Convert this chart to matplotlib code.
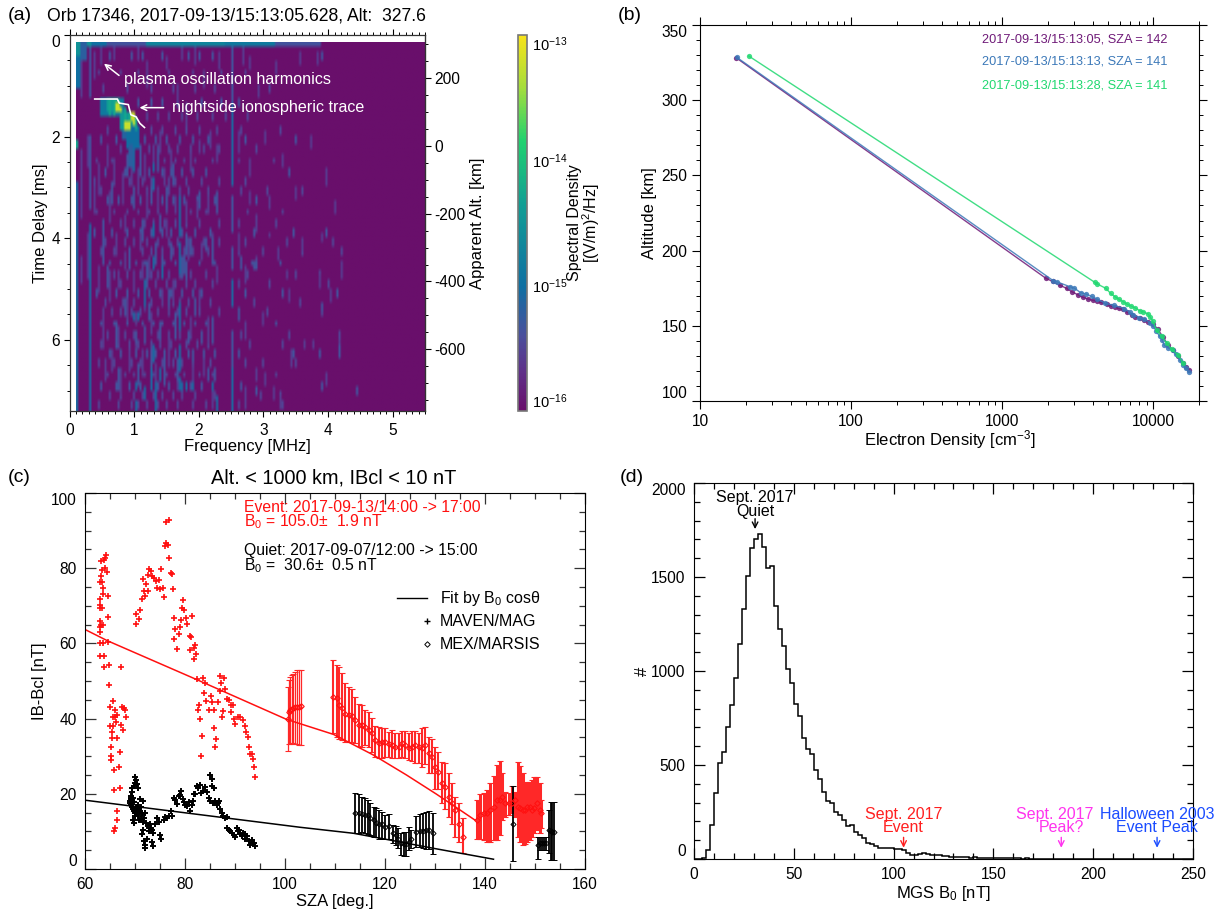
#!/usr/bin/env python3
import numpy as np
import matplotlib
matplotlib.use('Agg')
import matplotlib.pyplot as plt
from matplotlib.colors import LinearSegmentedColormap, LogNorm
from matplotlib.lines import Line2D
from matplotlib.ticker import MultipleLocator, FixedLocator, NullFormatter, NullLocator

plt.rcParams['font.family'] = ['Liberation Sans', 'DejaVu Sans']
plt.rcParams['mathtext.fontset'] = 'custom'
plt.rcParams['mathtext.rm'] = 'Liberation Sans'
plt.rcParams['mathtext.default'] = 'regular'
plt.rcParams['axes.unicode_minus'] = False

W, H = 1219, 913

# Panel a: ionogram, cells as (freq MHz, delay start, delay end)
freq_edges = 0.1 + np.arange(161) * 0.03375
delay_edges = 0.16 + np.arange(81) * 0.0914
faint_runs = [
    (0.2, 0.4, 1.2), (0.2, 2.3, 3.6), (0.2, 4.4, 4.9), (0.27, 2.0, 2.6), (0.27, 3.9, 4.8), (0.4, 0.4, 0.9), (0.4, 3.0, 3.5),
    (0.47, 2.6, 3.1), (0.47, 4.6, 5.1), (0.5, 0.3, 0.6), (0.53, 5.4, 6.2), (0.57, 6.4, 6.8), (0.6, 2.2, 2.6), (0.63, 3.1, 3.7),
    (0.63, 4.7, 5.2), (0.67, 6.2, 6.6), (0.7, 0.3, 0.5), (0.7, 2.5, 2.9), (0.73, 3.9, 4.3), (0.77, 4.7, 5.0), (0.77, 5.8, 6.1),
    (0.8, 6.6, 7.1), (0.83, 2.8, 3.3), (0.87, 3.6, 3.9), (0.87, 4.3, 4.6), (0.9, 5.2, 5.6), (0.93, 6.2, 6.6), (0.97, 2.6, 3.0),
    (1.0, 4.7, 5.1), (1.03, 5.5, 5.7), (1.03, 5.9, 6.2), (1.07, 0.3, 0.5), (1.07, 2.7, 3.1), (1.1, 3.9, 4.2), (1.13, 4.5, 4.8),
    (1.13, 6.2, 6.7), (1.17, 2.4, 2.9), (1.17, 5.1, 5.4), (1.2, 0.6, 1.0), (1.2, 3.2, 3.6), (1.23, 4.4, 4.8), (1.27, 5.5, 5.9),
    (1.3, 2.2, 2.5), (1.33, 6.5, 6.8), (1.37, 3.0, 3.4), (1.4, 1.9, 2.3), (1.43, 5.0, 5.3), (1.47, 2.7, 3.0), (1.5, 0.5, 0.7),
    (1.5, 3.7, 4.0), (1.53, 6.0, 6.5), (1.57, 2.3, 2.6), (1.6, 4.9, 5.2), (1.63, 3.2, 3.5), (1.67, 1.0, 1.3), (1.67, 6.7, 7.0),
    (1.73, 0.3, 0.5), (1.8, 1.4, 1.8), (1.8, 3.3, 3.7), (1.83, 4.2, 4.4), (1.87, 2.4, 2.7), (1.87, 5.6, 5.9), (1.9, 6.6, 6.9),
    (1.93, 0.3, 0.6), (1.97, 3.3, 3.6), (2.0, 2.1, 2.3), (2.0, 5.0, 5.3), (2.03, 4.1, 4.4), (2.07, 0.7, 1.0), (2.07, 6.4, 6.7),
    (2.13, 3.2, 3.5), (2.13, 5.6, 6.1), (2.17, 1.9, 2.2), (2.2, 3.9, 4.2), (2.2, 6.9, 7.3), (2.27, 2.2, 2.5), (2.27, 4.6, 4.9),
    (2.3, 0.4, 0.7), (2.63, 1.9, 2.3), (2.63, 3.9, 4.2), (2.67, 0.3, 0.6), (2.7, 4.6, 4.9), (2.7, 5.7, 6.0), (2.73, 7.0, 7.3),
    (2.77, 2.5, 2.8), (2.8, 3.1, 3.3), (2.8, 0.5, 0.7), (2.87, 3.6, 3.9), (2.87, 4.4, 4.6), (2.87, 6.6, 6.8), (2.93, 1.0, 1.2),
    (3.0, 5.5, 5.7), (3.03, 1.9, 2.1), (3.03, 6.7, 6.9), (3.1, 3.2, 3.4), (3.1, 3.9, 4.0), (3.17, 7.0, 7.2), (3.2, 0.6, 0.8),
    (3.23, 4.2, 4.4), (3.27, 7.1, 7.3), (3.3, 2.4, 2.6), (3.37, 4.7, 4.8), (3.4, 5.0, 5.2), (3.43, 6.2, 6.5), (3.5, 3.0, 3.2),
    (3.57, 0.4, 0.6), (3.6, 4.0, 4.2), (3.63, 6.0, 6.2), (3.73, 2.0, 2.2), (3.77, 6.0, 6.2), (3.83, 0.4, 0.6), (3.85, 4.8, 5.0),
    (3.9, 3.9, 4.1), (3.95, 2.7, 3.0), (3.95, 6.7, 6.9), (4.03, 5.0, 5.2), (4.1, 3.3, 3.5), (4.17, 6.0, 6.3), (4.2, 4.5, 4.8),
]
mid_runs = [
    (0.33, 0.25, 1.2), (0.33, 2.0, 3.4), (0.53, 3.7, 4.5), (0.6, 4.6, 5.0), (0.65, 2.9, 3.3), (0.73, 5.7, 6.2), (0.77, 6.6, 7.0),
    (0.87, 5.2, 5.5), (0.9, 2.4, 2.8), (0.93, 4.2, 4.6), (1.0, 3.0, 3.4), (1.03, 5.9, 6.1), (1.05, 6.5, 6.9), (1.1, 2.2, 2.8),
    (1.13, 3.7, 4.1), (1.17, 5.8, 6.1), (1.2, 4.5, 5.0), (1.23, 5.3, 5.6), (1.27, 3.0, 3.3), (1.27, 6.2, 6.6), (1.33, 4.1, 4.5),
    (1.37, 2.3, 2.7), (1.4, 3.6, 3.9), (1.4, 5.7, 6.0), (1.43, 4.4, 4.7), (1.47, 6.4, 6.9), (1.5, 3.0, 3.4), (1.53, 5.0, 5.3),
    (1.57, 4.1, 4.4), (1.6, 2.6, 3.0), (1.63, 5.5, 6.0), (1.67, 6.4, 6.8), (1.77, 4.4, 4.7), (1.8, 3.9, 4.3), (1.83, 5.9, 6.1),
    (1.87, 4.0, 4.3), (1.9, 6.2, 6.4), (1.93, 5.2, 5.5), (2.0, 3.1, 3.4), (2.03, 5.9, 6.1), (2.1, 4.0, 4.2), (2.13, 6.6, 6.8),
    (2.2, 4.0, 4.5), (2.2, 5.6, 6.1), (2.23, 6.6, 6.8), (2.27, 3.1, 3.5), (2.63, 5.4, 5.6), (2.65, 4.4, 4.6), (2.85, 4.5, 4.6),
    (2.5, 0.25, 1.4), (2.5, 3.2, 3.9), (2.5, 4.2, 4.6), (2.53, 5.9, 6.6), (1.75, 4.4, 4.8), (1.8, 4.5, 4.8), (4.43, 7.0, 7.1),
    (3.9, 5.3, 5.4), (4.17, 6.1, 6.3), (2.9, 4.45, 4.6), (2.85, 4.5, 4.6), (2.87, 7.0, 7.1),
]
strong_runs = [
    (0.11, 2.9, 7.41), (0.33, 3.8, 7.41), (2.5, 1.4, 3.0), (2.5, 4.9, 5.3), (2.5, 6.6, 7.41), (1.72, 3.2, 4.0), (1.72, 4.1, 4.7),
    (1.72, 5.3, 5.8), (1.72, 6.1, 6.6), (1.3, 2.59, 2.72), (1.3, 2.85, 3.05), (1.3, 3.77, 4.0), (1.3, 4.4, 4.6), (1.27, 6.6, 7.0),
    (1.0, 5.5, 5.6), (1.07, 5.5, 5.6), (1.03, 6.9, 7.0), (1.3, 6.1, 6.4), (1.33, 6.9, 7.41), (1.4, 6.6, 6.8), (1.17, 4.9, 5.3),
    (1.0, 2.2, 2.66), (1.03, 7.2, 7.41), (1.7, 6.8, 7.0), (1.75, 6.9, 7.0), (1.8, 6.9, 7.0), (1.9, 6.9, 7.0), (2.2, 6.9, 7.0),
    (2.27, 7.1, 7.41), (1.43, 4.6, 4.8), (1.17, 7.0, 7.2),
]
# single specks, one row of cells per delay
speck_delay = [0.4, 0.7, 1.0, 1.3, 1.6, 1.85, 2.05, 2.25, 2.45, 2.65, 2.85, 3.05, 3.25, 3.45, 3.65, 3.85, 4.05, 4.25, 4.45, 4.65, 4.85, 5.05, 5.25, 5.45, 5.65, 5.85, 6.05, 6.25, 6.45, 6.65, 6.85, 7.05, 7.25]
speck_freqs = [
    [0.62, 0.95, 1.12, 1.42, 1.85, 2.02, 2.2, 3.9],
    [0.45, 0.78, 1.05, 1.55, 1.92, 2.35, 2.7],
    [0.52, 0.88, 1.25, 1.6, 1.95, 2.25, 3.1],
    [1.05, 1.28, 1.45, 1.68, 2.05, 2.35, 2.6],
    [1.2, 1.35, 1.55, 1.75, 1.98, 2.2, 2.4, 2.75],
    [0.6, 1.25, 1.42, 1.62, 1.82, 2.02, 2.28, 2.65, 3.25],
    [0.48, 0.72, 1.18, 1.33, 1.5, 1.72, 1.92, 2.15, 2.72, 3.5],
    [0.58, 0.78, 1.22, 1.36, 1.55, 1.68, 1.88, 2.08, 2.3, 2.9],
    [0.42, 0.66, 1.15, 1.3, 1.48, 1.62, 1.78, 1.95, 2.2, 2.62, 3.15],
    [0.55, 0.85, 1.05, 1.24, 1.42, 1.58, 1.74, 1.9, 2.12, 2.8, 3.4],
    [0.38, 0.7, 0.92, 1.12, 1.28, 1.52, 1.65, 1.82, 2.05, 2.3, 2.7],
    [0.5, 0.82, 1.0, 1.2, 1.38, 1.55, 1.7, 1.85, 2.15, 2.65, 3.05, 3.6],
    [0.6, 0.75, 0.95, 1.1, 1.25, 1.45, 1.6, 1.78, 1.98, 2.25, 2.9],
    [0.42, 0.68, 0.88, 1.05, 1.22, 1.36, 1.5, 1.65, 1.88, 2.1, 2.75, 3.3],
    [0.52, 0.8, 0.98, 1.15, 1.3, 1.48, 1.62, 1.8, 2.02, 2.3, 2.62, 3.2],
    [0.4, 0.65, 0.9, 1.08, 1.25, 1.42, 1.58, 1.75, 1.95, 2.18, 2.85, 3.45, 3.95],
    [0.55, 0.72, 0.85, 1.0, 1.2, 1.35, 1.52, 1.68, 1.85, 2.08, 2.3, 2.7, 3.35, 4.05],
    [0.48, 0.7, 0.92, 1.12, 1.28, 1.42, 1.6, 1.78, 1.92, 2.15, 2.6, 3.0, 3.6, 4.2],
    [0.62, 0.8, 1.02, 1.18, 1.32, 1.48, 1.65, 1.82, 2.0, 2.25, 2.65, 2.82, 3.25],
    [0.45, 0.68, 0.88, 1.1, 1.25, 1.38, 1.55, 1.7, 1.88, 2.12, 2.75, 3.5, 3.85],
    [0.58, 0.78, 0.98, 1.15, 1.32, 1.5, 1.62, 1.8, 1.95, 2.22, 2.6, 3.1, 4.0],
    [0.42, 0.72, 0.9, 1.05, 1.22, 1.4, 1.58, 1.75, 1.9, 2.05, 2.7, 3.3, 4.15],
    [0.55, 0.82, 1.0, 1.15, 1.28, 1.45, 1.6, 1.72, 1.85, 2.18, 2.85, 3.55],
    [0.65, 0.78, 0.95, 1.08, 1.22, 1.38, 1.52, 1.68, 1.82, 2.0, 2.3, 2.62, 3.05, 3.9],
    [0.48, 0.7, 0.88, 1.12, 1.3, 1.42, 1.6, 1.78, 1.95, 2.12, 2.72, 3.2],
    [0.6, 0.85, 1.0, 1.18, 1.35, 1.55, 1.7, 1.88, 2.05, 2.2, 2.65, 3.4, 4.18],
    [0.5, 0.75, 0.92, 1.05, 1.25, 1.4, 1.58, 1.8, 1.98, 2.15, 2.8, 3.3, 3.75],
    [0.62, 0.8, 1.02, 1.2, 1.32, 1.48, 1.65, 1.85, 2.08, 2.25, 2.6, 3.45, 3.85],
    [0.45, 0.7, 0.95, 1.1, 1.28, 1.45, 1.6, 1.75, 1.92, 2.18, 2.72, 3.0, 3.5],
    [0.58, 0.85, 1.0, 1.15, 1.3, 1.5, 1.62, 1.78, 2.0, 2.2, 2.9, 3.2],
    [0.5, 0.72, 0.92, 1.08, 1.25, 1.38, 1.55, 1.72, 1.88, 2.05, 2.65, 3.9],
    [0.62, 0.8, 0.98, 1.12, 1.3, 1.45, 1.6, 1.75, 1.95, 2.25, 2.7, 2.95, 3.25],
    [0.45, 0.75, 0.95, 1.05, 1.2, 1.35, 1.5, 1.68, 1.9, 2.12, 2.62, 3.3],
]
# rectangular patches: f0, f1, t0, t1, log10 density
patches = [
    (0.1, 0.35, 0.16, 0.22, -14.5), (0.35, 0.6, 0.16, 0.22, -15.0), (0.6, 1.2, 0.16, 0.22, -15.35), (1.2, 2.4, 0.16, 0.22, -14.7), (2.4, 3.2, 0.16, 0.22, -14.85), (3.2, 3.9, 0.16, 0.22, -15.35),
    (0.1, 0.17, 0.22, 0.5, -14.5), (0.1, 0.17, 0.5, 1.0, -15.0), (0.2, 0.3, 0.22, 0.45, -15.2),
    (0.5, 0.86, 1.33, 1.58, -14.85), (0.58, 0.78, 1.33, 1.5, -14.35), (0.8, 1.0, 1.55, 1.9, -14.45), (0.88, 1.1, 1.88, 2.25, -15.0), (0.82, 0.88, 1.9, 2.05, -15.15),
    (0.92, 1.0, 2.25, 2.6, -15.2),
]
green_runs = [(0.1, 2.1, 2.2), (0.63, 1.33, 1.6), (0.7, 1.3, 1.55), (0.77, 1.3, 1.5), (0.87, 1.5, 1.9), (0.93, 1.6, 1.9), (1.03, 1.7, 1.9)]
yellow_cells = [(0.72, 1.38, 1.5), (0.75, 1.38, 1.5), (0.87, 1.75, 1.9), (0.9, 1.75, 1.9), (0.93, 1.75, 1.9), (0.97, 1.6, 1.72), (1.0, 1.6, 1.78), (0.8, 1.45, 1.5)]
run_levels = [(faint_runs, -15.6), (mid_runs, -15.35), (strong_runs, -15.1)]
top_levels = [(green_runs, -14.25), (yellow_cells, -13.25)]

trace_freq = [0.39, 0.74, 0.77, 0.91, 0.95, 1.03, 1.09, 1.16]
trace_delay = [1.26, 1.26, 1.34, 1.37, 1.57, 1.61, 1.74, 1.82]

# Panel b: electron density profiles
purple_ne = [17.3, 1941, 2150, 2400, 2660, 2900, 3178, 3400, 3700, 3950, 4205, 4500, 4900, 5200, 5560, 5900, 6310, 6700, 7160, 7600, 8130, 8700, 9230, 9950, 10700, 11580, 12500, 13500, 14550, 15700, 16400, 17200]
purple_alt = [328.3, 181.6, 179.5, 177, 174.9, 172.5, 170.5, 169, 167.8, 167, 166.5, 165.5, 164.3, 163.3, 162.3, 161.6, 161, 159, 157.2, 156, 155, 153.8, 152.7, 151.2, 147.6, 142.4, 137.2, 133.9, 129.9, 125, 122.5, 120.6]
blue_ne = [17.5, 2170, 2300, 2800, 3000, 3300, 3600, 3900, 4200, 4800, 5500, 6400, 7000, 7300, 8000, 8700, 9500, 10000, 10400, 11000, 11400, 11800, 12400, 13400, 14000, 15000, 15700, 16300, 17200]
blue_alt = [328.5, 180, 179.2, 176, 175, 172, 171, 169.5, 168, 165, 163.5, 161.5, 159, 157.5, 155.5, 154.5, 152, 150, 146.5, 143, 140.5, 137, 135.5, 134, 131, 127, 124, 122, 119]
green_ne = [21, 4090, 4250, 4840, 5200, 5560, 5930, 6310, 6700, 7090, 7530, 8130, 8550, 9230, 9460, 9860, 10470, 11300, 12200, 13180, 14550, 15700]
green_alt = [329.4, 178.9, 177.8, 174.9, 171.6, 169.3, 167.6, 166, 164.3, 163.2, 162, 160, 159.4, 157.8, 156, 153.4, 147.2, 143.2, 138.8, 134.4, 130.6, 125]
profile_labels = ['2017-09-13/15:13:05, SZA = 142', '2017-09-13/15:13:13, SZA = 141', '2017-09-13/15:13:28, SZA = 141']

# Panel c: MAVEN/MAG points
red_sza = [64.2, 63.7, 63.1, 64.0, 63.3, 64.0, 64.3, 63.1, 63.3, 63.0, 63.5, 63.5, 64.5, 62.9, 62.9, 63.3, 63.0, 63.0, 63.1, 63.5, 62.9, 63.0, 64.5, 64.5, 62.9, 63.5, 62.9, 63.8, 63.7, 64.7,
           64.8, 65.5, 64.9, 65.5, 66.0, 65.0, 65.5, 66.2, 65.3, 65.3, 65.1, 66.3, 65.1, 65.2, 66.9, 66.7, 65.8, 65.8, 66.9, 66.3, 66.3, 66.0, 65.7, 67.2, 67.7, 68.0, 67.3, 68.2, 67.2, 67.5, 66.0, 66.4,
           70.1, 70.2, 70.7, 71.0, 71.3, 72.0, 71.7, 72.5, 72.1, 71.5, 72.5, 72.8, 73.1, 73.4, 73.8, 74.2, 74.7, 74.3, 74.9, 75.5, 75.2, 75.7, 76.1, 75.9, 76.5, 76.8, 76.1, 76.7, 77.2, 77.4, 77.5, 77.7, 78.0, 77.8, 78.3, 79.0, 78.7,
           79.5, 79.3, 79.8, 79.1, 80.2, 80.3, 81.3, 80.9, 81.1, 81.0, 82.0, 81.7, 82.2, 81.8,
           82.4, 83.6, 84.0, 83.8, 82.8, 82.6, 83.0, 83.3, 83.2, 84.2, 85.1, 84.7, 85.7, 85.3, 86.5, 86.9, 87.0, 87.8, 87.1, 88.0, 87.5, 87.3, 85.8, 86.1, 86.0, 88.3, 88.7, 89.1, 89.5, 89.2, 89.7, 90.0, 90.5, 91.0, 91.5, 91.9, 92.2, 92.5, 92.7, 92.9, 93.3, 93.5, 93.7, 93.9]
red_b = [83.5, 82.2, 82.0, 82.6, 79.5, 80.0, 79.0, 78.0, 76.4, 76.2, 74.7, 73.1, 72.7, 71.7, 70.2, 69.3, 69.4, 66.0, 64.9, 65.0, 64.3, 63.1, 67.1, 60.5, 60.0, 60.0, 56.6, 56.7, 53.8, 54.3,
         49.0, 44.8, 43.0, 40.5, 40.3, 38.0, 38.0, 39.2, 36.5, 34.8, 32.5, 34.8, 30.1, 29.0, 31.0, 27.2, 26.3, 21.0, 21.5, 15.3, 13.0, 11.0, 10.0, 53.8, 42.7, 42.3, 43.1, 40.5, 38.3, 37.0, 42.3, 41.0,
         67.8, 65.1, 66.4, 68.9, 71.7, 72.6, 74.0, 74.0, 75.8, 77.1, 78.2, 79.8, 79.3, 77.8, 77.3, 76.7, 76.9, 74.8, 74.6, 74.8, 79.8, 72.3, 86.6, 85.9, 86.2, 82.6, 92.2, 92.8, 78.6, 78.4, 74.5, 66.7, 63.8, 61.3, 58.4, 64.4, 62.5,
         71.5, 69.3, 68.9, 66.2, 66.7, 65.1, 67.3, 62.0, 61.8, 58.2, 59.6, 58.7, 57.2, 55.8,
         50.4, 50.7, 49.4, 46.7, 43.6, 42.3, 39.8, 35.4, 30.0, 44.8, 46.0, 42.3, 42.3, 44.3, 44.3, 47.4, 51.3, 50.9, 49.4, 48.0, 42.0, 40.3, 37.6, 34.5, 32.5, 45.1, 45.0, 43.6, 43.6, 41.8, 39.8, 38.5, 40.5, 40.3, 39.5, 38.0, 36.5, 35.0, 32.4, 30.6, 30.5, 29.2, 27.2, 24.6]
black_sza = [70.0, 70.2, 69.9, 70.4, 69.7, 70.5, 69.4, 69.3, 69.2, 69.1, 69.0, 69.0, 69.2, 69.3, 69.5, 69.7, 70.0, 70.3, 69.9, 69.5, 69.7, 70.5, 70.7, 71.0, 70.6, 71.3, 71.1, 71.8, 71.5, 70.9, 71.5, 72.2, 72.5, 71.6, 71.4, 71.8, 72.0, 72.3, 71.9, 72.8, 73.2, 73.5, 73.4, 73.6, 74.0, 74.4, 74.8, 75.0, 75.2, 75.7, 76.0, 76.4, 76.8, 77.2, 77.3,
             69.1, 69.4, 69.6, 69.8, 70.1, 70.3, 70.5, 70.8, 71.2, 71.4, 72.0, 72.7, 73.0, 73.3,
             77.8, 78.0, 78.3, 78.7, 79.0, 79.2, 79.5, 79.8, 80.0, 80.3, 80.7, 80.9, 81.3, 81.5, 81.7, 82.0, 82.3, 82.6, 83.0, 83.2, 83.6, 84.0, 84.3, 84.7, 85.0, 85.5, 85.0, 85.3, 85.4, 85.8, 86.0, 86.3, 86.5, 86.8, 87.0, 87.3, 87.5, 87.9, 88.3,
             88.4, 88.8, 89.0, 89.4, 89.7, 90.0, 90.3, 90.5, 90.8, 91.0, 91.3, 91.6, 91.9, 92.0, 92.4, 92.7, 93.0, 93.3, 93.5, 93.8, 94.0]
black_b = [24.5, 23.7, 23.0, 22.5, 22.0, 21.5, 21.5, 20.5, 19.5, 19.0, 18.0, 17.5, 17.0, 16.5, 16.0, 15.5, 15.0, 14.5, 14.0, 13.0, 12.2, 17.0, 16.0, 15.5, 14.0, 14.5, 13.4, 13.5, 18.0, 18.5, 12.5, 12.2, 11.5, 10.5, 9.2, 7.5, 6.5, 8.0, 5.5, 10.0, 11.0, 9.5, 7.2, 6.0, 12.0, 13.5, 12.5, 9.0, 8.0, 13.0, 13.8, 13.5, 14.0, 15.5, 14.2,
           18.5, 18.2, 19.0, 17.7, 16.5, 15.7, 15.0, 13.0, 16.5, 15.0, 14.8, 10.8, 12.0, 10.5,
           19.0, 18.3, 17.3, 19.5, 19.8, 20.8, 18.5, 17.8, 17.0, 16.8, 17.7, 15.5, 17.0, 18.0, 20.0, 20.0, 22.0, 21.5, 22.3, 20.2, 20.8, 21.8, 20.5, 19.0, 18.0, 17.5, 25.0, 24.0, 22.0, 21.5, 18.0, 17.0, 17.5, 18.0, 16.0, 15.0, 14.0, 13.6, 13.7,
           11.0, 10.5, 10.0, 9.5, 9.0, 8.5, 11.0, 10.0, 10.5, 9.3, 8.8, 9.5, 8.0, 9.2, 8.8, 7.5, 6.5, 7.8, 7.0, 6.8, 6.0]

# Panel c: MEX/MARSIS points with error bars
ev_sza = [100.5, 100.7, 101, 101.3, 101.6, 102, 102.4, 102.8, 103.1,
          109.5, 110.3, 110.7, 111.3, 112, 112.7, 113.3, 114, 114.7, 115.3, 116, 116.7, 117.3, 118, 118.7, 119.3, 120, 120.7, 121.3, 122, 122.7, 123.3, 124, 124.7, 125.3, 126, 126.7, 127.3, 128, 128.7, 129.3, 130, 130.5, 131.3, 132, 132.7, 133.3, 134, 134.7, 135.5,
          138.3, 139, 139.7, 140.3, 141, 141.7, 142.3, 143, 143.3, 144, 144.7, 145.3, 146, 146.5, 147, 147.5, 147.9, 148.3, 148.9, 149.3, 149.8, 150.3, 150.9, 151.1]
ev_mean = [40, 41.8, 42.2, 42.5, 42.8, 43, 43, 43.2, 43.3,
           45.8, 45.4, 43.6, 42.7, 41.2, 41, 40.7, 39.6, 38.3, 38.3, 37.7, 37.1, 36.1, 34.3, 33.4, 33.9, 33.9, 33.2, 33, 32.5, 32.5, 33.4, 33, 32.3, 32.5, 33, 32.5, 32.1, 33, 30.8, 29.9, 27.2, 25.9, 22.8, 21.9, 19.2, 17.5, 15.7, 12.1, 8.6,
           13, 14.4, 15, 14.8, 15.7, 16.6, 18.3, 18.3, 19.2, 17.5, 17.5, 17.5, 18.3, 16.6, 16.1, 15.7, 15.7, 16.6, 16.6, 15.7, 16.1, 17.5, 15.7, 14.8]
ev_low = [31.5, 33.2, 33.3, 33.5, 33.4, 33.3, 33.3, 33, 33,
          36.1, 35.2, 34.7, 34.3, 33.7, 33.7, 33.9, 33.6, 32.7, 32.5, 33, 32.4, 31.2, 29.9, 29.6, 29.6, 29.9, 29.9, 29.4, 29.4, 29.4, 29.7, 29.4, 29, 28.8, 28.3, 28.1, 27.2, 27.9, 25.6, 25.4, 21.4, 21.4, 17.5, 15.9, 13.9, 12.1, 8.6, 7.3, 4.2,
          8.1, 8, 7.7, 7.3, 7.1, 7.7, 7.7, 9, 13, 13.9, 14.4, 14.8, 13.9, 8.6, 7.3, 6.4, 6.7, 7.3, 7.7, 8.6, 9.5, 10.4, 9.5, 10.8]
ev_high = [48.5, 50.3, 51, 51.5, 51.8, 52.3, 52.8, 53, 53,
           55.6, 54.3, 53.8, 52, 49.6, 48.3, 48, 45.7, 44, 43.6, 42.3, 41.8, 40.1, 38, 37.7, 37.4, 37.4, 36.5, 37, 36.1, 36.1, 36.8, 36.8, 36.3, 36.8, 36.7, 36.3, 37.4, 37.7, 35.2, 34.7, 32.5, 31.2, 28.4, 28.1, 25.4, 22.8, 19.2, 17.5, 13.5,
           18.3, 19.9, 20.3, 21, 22.8, 24.7, 27.6, 28.8, 25.4, 20.6, 20.1, 22.1, 20.6, 28.5, 27.4, 25.4, 23.2, 22.8, 23.2, 23.7, 24.6, 24.6, 22.8, 18.3]
qu_sza = [114, 114.7, 115.3, 116, 116.5, 117, 117.7, 118.2, 118.8, 119.3, 120, 120.8, 121.5, 122.1, 122.5, 123.1, 123.7, 124.2, 124.7, 125.1,
          126.2, 126.9, 127.5, 128.2, 128.7, 129.5, 145.5, 150.5, 151, 151.4, 151.8, 152.2, 152.7, 153.1, 153.4, 153.7]
qu_mean = [15, 15, 14.6, 14.4, 14.4, 13.5, 13, 12.3, 12.1, 12, 11.1, 11.4, 9.7, 9, 8.1, 6.8, 6.6, 6.6, 7.3, 8,
           9.9, 10.1, 10.2, 10.4, 10.4, 9.5, 12.1, 6.4, 6.8, 6.8, 6.8, 7, 10.4, 10.2, 9.9, 9.9]
qu_low = [9.5, 9.7, 9.9, 9.5, 9.3, 9, 8.6, 8.4, 8.1, 8.1, 8, 8, 6.8, 6.4, 5.5, 3.7, 3.4, 3.4, 5, 5.5,
          5.9, 5.8, 5.5, 5.2, 5.2, 4, 2.2, 2.7, 5, 5, 5, 5, 4.2, 2.4, 2.4, 2.4]
qu_high = [20.3, 20, 19.2, 18.8, 18.3, 17.5, 16.6, 16.1, 15.7, 15.2, 14.4, 14.6, 11.7, 11.4, 10.8, 9.7, 9.9, 9.9, 11.1, 10.4,
           14.1, 14.6, 14.8, 15.2, 15.5, 14.8, 22.2, 8.6, 8.6, 8.6, 8.6, 8.6, 15.7, 17.9, 17.9, 17.9]

fit_ev_sza = [60, 64.5, 82.3, 100.3, 109.7, 117.7, 124.3, 130.3, 135, 138]
fit_ev_b = [63.7, 60.7, 50.4, 39.8, 35.8, 30.3, 25, 19.9, 15.7, 13]
fit_qu_sza = [60, 103, 113.7, 121, 129.7, 141.7]
fit_qu_b = [18.3, 11.1, 9.5, 7.7, 5.5, 2.6]

# Panel d: histogram of B0, 2 nT bins
b0_counts = [0, 1, 3, 46, 181, 350, 513, 568, 700, 820, 964, 1145, 1330, 1503, 1654, 1704, 1729, 1660, 1546, 1560,
             1344, 1223, 1134, 1012, 935, 822, 758, 643, 584, 559, 472, 426, 359, 311, 296, 250, 236, 208, 176, 179,
             142, 130, 110, 83, 80, 71, 60, 59, 58, 56, 54, 52, 48, 34, 21, 20, 24, 30, 25, 23, 20, 19, 16,
             14, 12, 11, 9, 8, 8, 7, 9, 6, 7, 6, 5, 5, 6, 4, 4, 3, 3, 3, 2, 3, 2, 2, 1, 2, 1, 1, 1, 1, 1, 1, 1, 0, 1, 0, 1, 0, 0, 1, 0, 0, 0, 0, 0, 0, 0, 0, 0, 0, 0, 0, 0, 0, 0, 0, 0, 0, 0, 0, 0, 0, 0]
peak_names = [('Sept. 2017', 'Quiet'), ('Sept. 2017', 'Event'), ('Sept. 2017', 'Peak?'), ('Halloween 2003', 'Event Peak')]
peak_b0 = [30.6, 105, 184, 232]
peak_colors = ['black', '#ff2020', '#ff33ee', '#1a4cff']

TICK = 11.2
LABEL = 12


def box(l, t, r, b):
    return [l / W, 1 - b / H, (r - l) / W, (b - t) / H]


def ftext(x, y, s, **kw):
    kw.setdefault('ha', 'left')
    kw.setdefault('va', 'center')
    kw.setdefault('fontsize', LABEL)
    return fig.text(x / W, 1 - y / H, s, **kw)


def ends_inside(ax):
    # top and bottom y labels sit inside the axis range
    bottom, top = ax.get_ylim()
    for v, label in zip(ax.get_yticks(), ax.get_yticklabels()):
        if abs(v - top) < 1e-6:
            label.set_va('top')
        if abs(v - bottom) < 1e-6:
            label.set_va('bottom')


def cell_range(f, t0, t1):
    i = int(np.clip(np.searchsorted(freq_edges, f) - 1, 0, 159))
    j0 = int(np.clip(np.searchsorted(delay_edges, t0 + 0.01) - 1, 0, 79))
    j1 = int(np.clip(np.searchsorted(delay_edges, t1 - 0.01), j0 + 1, 80))
    return i, j0, j1


fig = plt.figure(figsize=(W / 100, H / 100), dpi=100)

# ---- (a)
ax = fig.add_axes(box(69.5, 35, 425, 411.5))
grid = np.full((80, 160), -16.0)
for row, (t, freqs) in enumerate(zip(speck_delay, speck_freqs)):
    for f in freqs:
        i, j0, j1 = cell_range(f, t, t + 0.09)
        grid[j0:j1, i] = -15.35 if row % 3 == 0 else -15.5
for runs, level in run_levels:
    for f, t0, t1 in runs:
        i, j0, j1 = cell_range(f, t0, t1)
        grid[j0:j1, i] = level
for f0, f1, t0, t1, level in patches:
    i0 = cell_range(f0, t0, t1)[0]
    i1, j0, j1 = cell_range(f1, t0, t1)
    grid[j0:j1, i0:i1] = level
for runs, level in top_levels:
    for f, t0, t1 in runs:
        i, j0, j1 = cell_range(f, t0, t1)
        grid[j0:j1, i] = level

cmap = LinearSegmentedColormap.from_list('iono', [(0, '#690f6b'), (0.1, '#5f2f88'), (0.2, '#4a4f9c'), (0.33, '#0f6fa2'), (0.55, '#119e94'), (0.72, '#20d26f'), (0.86, '#a4dd3c'), (1, '#f8e31a')])
mesh = ax.imshow(10.0 ** grid, cmap=cmap, norm=LogNorm(1e-16, 1e-13), aspect='auto', origin='upper',
                 extent=(freq_edges[0], freq_edges[-1], delay_edges[-1], delay_edges[0]),
                 interpolation='bilinear', interpolation_stage='rgba')
ax.plot(trace_freq, trace_delay, color='white', lw=1.2)
ax.set_xlim(0, 5.5)
ax.set_ylim(7.41, 0)
ax.xaxis.set_major_locator(MultipleLocator(1))
ax.xaxis.set_minor_locator(MultipleLocator(0.1))
ax.yaxis.set_major_locator(FixedLocator([0, 2, 4, 6]))
ax.yaxis.set_minor_locator(MultipleLocator(0.5))
ax.tick_params(which='major', direction='out', length=4, width=0.8, labelsize=TICK, top=True, pad=3)
ax.tick_params(which='minor', direction='out', length=2, width=0.7, top=True)
ax.tick_params(axis='x', labeltop=False, pad=4)
ax.set_xlabel('Frequency [MHz]', fontsize=LABEL, labelpad=1)
ax.set_ylabel('Time Delay [ms]', fontsize=LABEL, labelpad=2)
ends_inside(ax)
for s in ax.spines.values():
    s.set_linewidth(0.9)
    s.set_color('#333333')
ax.annotate('', xy=(0.5, 0.53), xytext=(0.8, 0.83), arrowprops=dict(arrowstyle='->', color='white', lw=1.1))
ax.text(0.84, 0.87, 'plasma oscillation harmonics', color='white', fontsize=11.6, va='center')
ax.annotate('', xy=(1.04, 1.43), xytext=(1.5, 1.43), arrowprops=dict(arrowstyle='->', color='white', lw=1.1))
ax.text(1.58, 1.43, 'nightside ionospheric trace', color='white', fontsize=11.6, va='center')

alt_ax = ax.secondary_yaxis('right', functions=(lambda t: 327.6 - 150 * t, lambda a: (327.6 - a) / 150))
alt_ax.yaxis.set_major_locator(FixedLocator([200, 0, -200, -400, -600]))
alt_ax.yaxis.set_minor_locator(MultipleLocator(50))
alt_ax.tick_params(which='major', direction='out', length=4, width=0.8, labelsize=TICK, pad=3)
alt_ax.tick_params(which='minor', direction='out', length=2, width=0.7)
alt_ax.spines['right'].set_color('#333333')
alt_ax.set_ylabel('Apparent Alt. [km]', fontsize=LABEL, labelpad=3)
ftext(8, 16, '(a)', fontsize=14)
ftext(47, 16, 'Orb 17346, 2017-09-13/15:13:05.628, Alt:  327.6', fontsize=12.7)

cax = fig.add_axes(box(518, 35, 526.5, 411))
cb = fig.colorbar(mesh, cax=cax)
cb.set_ticks([1e-16, 1e-15, 1e-14, 1e-13])
cb.set_ticklabels(['10$^{-16}$', '10$^{-15}$', '10$^{-14}$', '10$^{-13}$'])
cax.yaxis.set_minor_locator(NullLocator())
cax.tick_params(length=0, labelsize=10.5, pad=4)
cax.get_yticklabels()[0].set_va('bottom')
cax.get_yticklabels()[3].set_va('top')
cb.outline.set_edgecolor('#777777')
cb.outline.set_linewidth(1.2)
ftext(574, 223, 'Spectral Density', rotation=90, ha='center', fontsize=11.5)
ftext(591, 223, '[(V/m)$^2$/Hz]', rotation=90, ha='center', fontsize=11.5)

# ---- (b)
ax = fig.add_axes(box(700, 25, 1199, 401))
profiles = [(purple_ne, purple_alt, '#6f1a78'), (blue_ne, blue_alt, '#3b78b8'), (green_ne, green_alt, '#20d870')]
for (ne, alt, color), name, y in zip(profiles, profile_labels, [40, 62, 85]):
    ax.plot(ne, alt, color=color, lw=1.0, marker='o', ms=3.8, mew=0, alpha=0.85)
    ftext(982, y, name, color=color, fontsize=9.2)
ax.set_xscale('log')
ax.set_xlim(10, 20000)
ax.set_ylim(100, 350)
ax.set_xticks([10, 100, 1000, 10000])
ax.set_xticklabels(['10', '100', '1000', '10000'])
ax.xaxis.set_minor_formatter(NullFormatter())
ax.yaxis.set_major_locator(FixedLocator([100, 150, 200, 250, 300, 350]))
ax.yaxis.set_minor_locator(MultipleLocator(10))
ax.tick_params(which='major', direction='out', length=6, width=0.8, labelsize=TICK, top=True, right=True, pad=3)
ax.tick_params(which='minor', direction='out', length=3, width=0.7, top=True, right=True)
ax.set_xlabel('Electron Density [cm$^{-3}$]', fontsize=LABEL, labelpad=0)
ax.set_ylabel('Altitude [km]', fontsize=LABEL, labelpad=3)
ends_inside(ax)
ftext(618, 16, '(b)', fontsize=14)

# ---- (c)
ax = fig.add_axes(box(85, 493, 585, 869))
ax.plot(red_sza, red_b, ls='none', marker='+', ms=4.5, mew=1.2, color='#ff1010')
ax.plot(black_sza, black_b, ls='none', marker='+', ms=4.5, mew=1.4, color='black')
sza = np.array(ev_sza)
ev = np.array(ev_mean)
ev_err = np.array([ev - np.array(ev_low), np.array(ev_high) - ev])
for mask, width in [(sza < 105, 0.9), ((sza > 105) & (sza < 137), 1.5), (sza >= 137, 2.2)]:
    ax.errorbar(sza[mask], ev[mask], yerr=ev_err[:, mask], fmt='D', ms=2.8, mfc='none', mew=0.8, color='#ff1010', elinewidth=width, capsize=2.5, capthick=1.0, ecolor='#ff2828')
qu = np.array(qu_mean)
ax.errorbar(qu_sza, qu_mean, yerr=[qu - np.array(qu_low), np.array(qu_high) - qu], fmt='D', ms=2.6, mfc='none', mew=0.7, color='black', elinewidth=1.3, capsize=2.5, capthick=1.0)
ax.plot(fit_ev_sza, fit_ev_b, color='#ff1010', lw=1.1)
ax.plot(fit_qu_sza, fit_qu_b, color='black', lw=1.1)
ax.set_xlim(60, 160)
ax.set_ylim(0, 100)
ax.xaxis.set_major_locator(MultipleLocator(20))
ax.xaxis.set_minor_locator(MultipleLocator(5))
ax.yaxis.set_major_locator(FixedLocator([0, 20, 40, 60, 80, 100]))
ax.yaxis.set_minor_locator(MultipleLocator(5))
ax.tick_params(which='major', direction='in', length=8, width=0.9, labelsize=TICK, top=True, right=True, color='#333333', pad=6)
ax.tick_params(which='minor', direction='in', length=4, width=0.9, top=True, right=True, color='#333333')
ax.set_xlabel('SZA [deg.]', fontsize=LABEL, labelpad=1)
ax.set_ylabel('IB-Bcl [nT]', fontsize=LABEL, labelpad=3)
ends_inside(ax)
ftext(8, 477, '(c)', fontsize=14)
ftext(334, 478, 'Alt. < 1000 km, IBcl < 10 nT', ha='center', fontsize=14.3)
ftext(244, 507, 'Event: 2017-09-13/14:00 -> 17:00', color='#ff1010', fontsize=11.3)
ftext(244, 522, 'B$_0$ = 105.0±  1.9 nT', color='#ff1010', fontsize=11.3)
ftext(244, 551, 'Quiet: 2017-09-07/12:00 -> 15:00', fontsize=11.3)
ftext(244, 566, 'B$_0$ =  30.6±  0.5 nT', fontsize=11.3)
fig.add_artist(Line2D([397 / W, 427 / W], [1 - 598 / H, 1 - 598 / H], color='black', lw=1.0))
fig.add_artist(Line2D([427 / W], [1 - 621 / H], marker='+', ms=4.5, mew=1.0, color='black', ls='none'))
fig.add_artist(Line2D([427 / W], [1 - 644 / H], marker='D', ms=2.8, mew=0.7, mfc='none', color='black', ls='none'))
ftext(440, 598, 'Fit by B$_0$ cosθ', fontsize=11.5)
ftext(440, 621, 'MAVEN/MAG', fontsize=11.5)
ftext(440, 644, 'MEX/MARSIS', fontsize=11.5)

# ---- (d)
ax = fig.add_axes(box(694, 483, 1193, 859))
bin_edges = np.arange(len(b0_counts) + 1) * 2
ax.stairs(b0_counts, bin_edges, color='black', lw=1.1)
ax.set_xlim(0, 250)
ax.set_ylim(0, 2000)
ax.xaxis.set_major_locator(MultipleLocator(50))
ax.xaxis.set_minor_locator(MultipleLocator(10))
ax.yaxis.set_major_locator(FixedLocator([0, 500, 1000, 1500, 2000]))
ax.yaxis.set_minor_locator(MultipleLocator(100))
ax.tick_params(which='major', direction='in', length=8, width=0.9, labelsize=TICK, top=True, right=True, pad=6)
ax.tick_params(which='minor', direction='in', length=4, width=0.9, top=True, right=True)
ax.set_xlabel('MGS B$_0$ [nT]', fontsize=LABEL, labelpad=1)
ax.set_ylabel('#', fontsize=LABEL, labelpad=1)
ends_inside(ax)
for name, b0, color, base, lift, shift in zip(peak_names, peak_b0, peak_colors, [1740, 45, 45, 45], [111, 122, 122, 122], [0, 0, -3.5, 0]):
    ax.annotate('', xy=(b0, base), xytext=(b0, base + 85), arrowprops=dict(arrowstyle='->', color=color, lw=1.0))
    ax.text(b0, base + lift, name[1], color=color, fontsize=11.5, ha='center', va='center')
    ax.text(b0 + shift, base + lift + 72, name[0], color=color, fontsize=11.5, ha='center', va='center')
ftext(620, 477, '(d)', fontsize=14)

fig.savefig('out.png', dpi=100)
